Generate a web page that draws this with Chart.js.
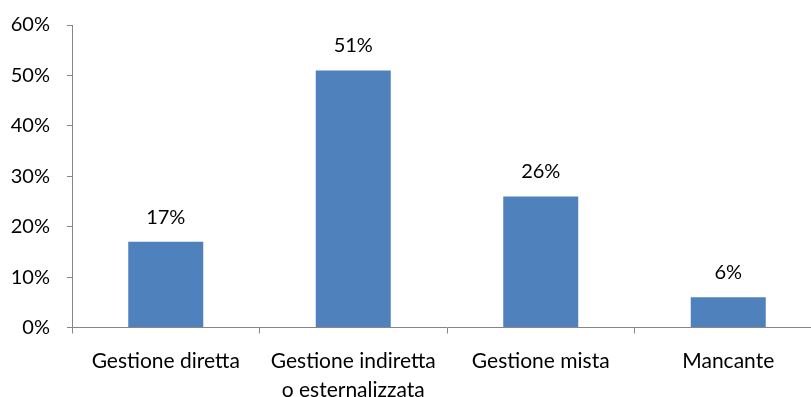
<!DOCTYPE html>
<html>
<head>
<meta charset="utf-8">
<script src="https://cdn.jsdelivr.net/npm/chart.js@4/dist/chart.umd.min.js"></script>
<style>
  html, body { margin: 0; padding: 0; background: #fff; overflow: hidden; width: 811px; height: 397px; }
  #wrap { position: relative; width: 811px; height: 397px; overflow: hidden; }
  canvas { display: block; }
</style>
</head>
<body>
<div id="wrap"><canvas id="c" width="824" height="397"></canvas></div>
<script>
// Categories (second label wraps onto two lines)
const categories = [
  'Gestione diretta',
  ['Gestione indiretta', 'o esternalizzata'],
  'Gestione mista',
  'Mancante'
];
// Share of each management type, in percent
const shares = [17, 51, 26, 6];
// Y axis range and step, in percent
const yMin = 0;
const yMax = 60;
const yStep = 10;

const FONT = 'Lato, "Open Sans", sans-serif';
const AXIS = '#868686';
const BAR = '#4F81BD';

// Writes each bar's value above it
const valueLabels = {
  id: 'valueLabels',
  afterDatasetsDraw(chart) {
    const ctx = chart.ctx;
    const meta = chart.getDatasetMeta(0);
    ctx.save();
    ctx.font = '20px ' + FONT;
    ctx.fillStyle = '#000';
    ctx.textAlign = 'center';
    ctx.textBaseline = 'alphabetic';
    meta.data.forEach((bar, i) => {
      ctx.fillText(shares[i] + '%', bar.x, bar.y - 18);
    });
    ctx.restore();
  }
};

new Chart(document.getElementById('c'), {
  type: 'bar',
  data: {
    labels: categories,
    datasets: [{
      data: shares,
      backgroundColor: BAR,
      borderWidth: 0,
      categoryPercentage: 0.8,
      barPercentage: 0.5
    }]
  },
  options: {
    responsive: false,
    animation: false,
    devicePixelRatio: 1,
    layout: { padding: { top: 25, right: 2, left: 0, bottom: 0 } },
    plugins: {
      legend: { display: false },
      tooltip: { enabled: false }
    },
    scales: {
      x: {
        offset: true,
        grid: {
          offset: true,
          drawOnChartArea: false,
          drawTicks: true,
          tickLength: 6,
          color: AXIS
        },
        border: { color: AXIS, width: 1 },
        ticks: {
          color: '#000',
          font: { family: FONT, size: 21, lineHeight: 1.35 },
          padding: 14,
          maxRotation: 0,
          autoSkip: false
        },
        afterFit(scale) {
          scale.height = 69.5;
          scale.paddingLeft = 0;
          scale.paddingRight = 0;
        }
      },
      y: {
        min: yMin,
        max: yMax,
        grid: {
          drawOnChartArea: false,
          drawTicks: true,
          tickLength: 5,
          color: AXIS
        },
        border: { color: AXIS, width: 1 },
        ticks: {
          stepSize: yStep,
          color: '#000',
          font: { family: FONT, size: 20 },
          padding: 17,
          callback: v => v + '%'
        },
        afterFit(scale) {
          scale.width = 72;
          scale.paddingTop = 0;
          scale.paddingBottom = 0;
        }
      }
    }
  },
  plugins: [valueLabels]
});
</script>
</body>
</html>
